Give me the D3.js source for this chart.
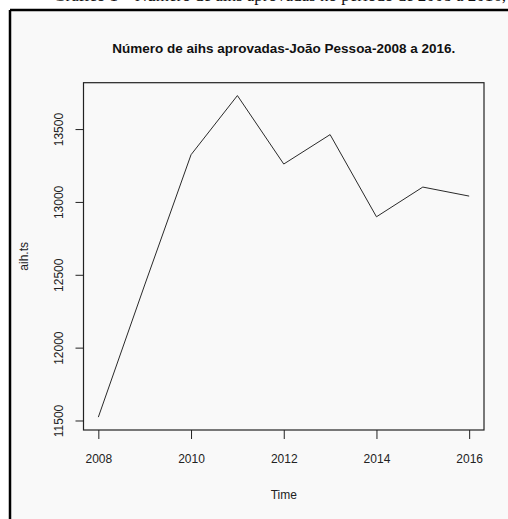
<!DOCTYPE html>
<html><head><meta charset="utf-8">
<script src="https://cdn.jsdelivr.net/npm/d3@7"></script>
<style>body{margin:0;background:#fff}svg{display:block}text{font-family:"Liberation Sans",Arial,sans-serif}</style>
</head><body>
<script>
const years = [2008, 2009, 2010, 2011, 2012, 2013, 2014, 2015, 2016];
const values = [11523, 12430, 13324, 13730, 13260, 13462, 12898, 13102, 13040];
const xTicks = [2008, 2010, 2012, 2014, 2016];
const yTicks = [11500, 12000, 12500, 13000, 13500];
const title = "Número de aihs aprovadas-João Pessoa-2008 a 2016.";
const xLabel = "Time";
const yLabel = "aih.ts";
const topText = "Gráfico 1 – Número de aihs aprovadas no período de 2008 a 2016,";

const W = 508, H = 519;
const svg = d3.select("body").append("svg").attr("width", W).attr("height", H);
svg.append("rect").attr("width", W).attr("height", H).attr("fill", "#fff");
// cropped caption text at very top (only its lower edge is visible, as in the reference)
svg.append("text").attr("x", 506).attr("y", 1).attr("text-anchor", "end")
  .style("font-family", "'Liberation Serif','Times New Roman',serif").style("font-size", "17px")
  .attr("fill", "#111").text(topText);
svg.append("rect").attr("x", 10).attr("y", 10).attr("width", W - 10).attr("height", H - 10).attr("fill", "#f9f9f9");
svg.append("line").attr("x1", 10).attr("x2", W).attr("y1", 10).attr("y2", 10).attr("stroke", "#000").attr("stroke-width", 2.5);
svg.append("line").attr("x1", 10).attr("x2", 10).attr("y1", 10).attr("y2", H).attr("stroke", "#000").attr("stroke-width", 2.5);

const L = 83.5, R = 484, T = 82.7, B = 430;
const xr = d3.extent(years), yr = d3.extent(values);
const xp = (xr[1] - xr[0]) * 0.04, yp = (yr[1] - yr[0]) * 0.04;
const x = d3.scaleLinear().domain([xr[0] - xp, xr[1] + xp]).range([L, R]);
const y = d3.scaleLinear().domain([yr[0] - yp, yr[1] + yp]).range([B, T]);

// box
svg.append("rect").attr("x", L).attr("y", T).attr("width", R - L).attr("height", B - T)
  .attr("fill", "none").attr("stroke", "#222").attr("stroke-width", 1.2);

// x axis
const gx = svg.append("g").attr("transform", `translate(0,${B})`)
  .call(d3.axisBottom(x).tickValues(xTicks).tickFormat(d3.format("d")).tickSize(9).tickSizeOuter(0));
gx.select(".domain").remove();
gx.selectAll("line").attr("stroke", "#222");
gx.selectAll("text").attr("y", 33).attr("dy", 0).style("font-size", "12px").attr("fill", "#222");

// y axis
const gy = svg.append("g").attr("transform", `translate(${L},0)`)
  .call(d3.axisLeft(y).tickValues(yTicks).tickFormat(d3.format("d")).tickSize(8).tickSizeOuter(0));
gy.select(".domain").remove();
gy.selectAll("line").attr("stroke", "#222");
gy.selectAll("text").attr("x", 0).attr("y", -20.5).attr("dy", 0).attr("transform", "rotate(-90)")
  .attr("text-anchor", "middle").style("font-size", "12px").attr("fill", "#222");

// line
svg.append("path").datum(years.map((d, i) => [d, values[i]]))
  .attr("d", d3.line().x(d => x(d[0])).y(d => y(d[1])))
  .attr("fill", "none").attr("stroke", "#2a2a2a").attr("stroke-width", 1);

// labels
svg.append("text").attr("x", (L + R) / 2).attr("y", 53).attr("text-anchor", "middle")
  .style("font-size", "13.5px").style("font-weight", "bold").attr("fill", "#111").text(title);
svg.append("text").attr("x", (L + R) / 2).attr("y", 499).attr("text-anchor", "middle")
  .style("font-size", "12px").attr("fill", "#222").text(xLabel);
svg.append("text").attr("transform", `translate(28,${(T + B) / 2}) rotate(-90)`).attr("text-anchor", "middle")
  .style("font-size", "12px").attr("fill", "#222").text(yLabel);
</script>
</body></html>
